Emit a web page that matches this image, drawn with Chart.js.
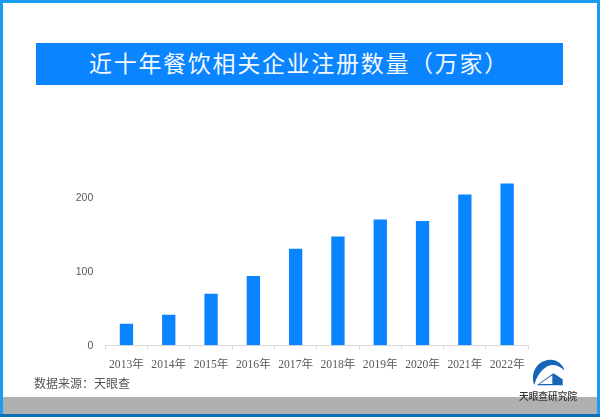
<!DOCTYPE html>
<html>
<head>
<meta charset="utf-8">
<script src="https://cdn.jsdelivr.net/npm/chart.js@4"></script>
<style>
  html, body { margin: 0; padding: 0; background: #fff; }
  #page { position: relative; width: 600px; height: 417px; overflow: hidden; background: #fff;
    font-family: "Noto Sans CJK SC", sans-serif; }
  #page div, #page svg, #page canvas { position: absolute; }
  #left { left: 0; top: 0; width: 3px; height: 417px; background: #1a9cf0; }
  #right { left: 597px; top: 0; width: 3px; height: 417px; background: #1a9cf0; }
  #top { left: 0; top: 0; width: 600px; height: 3px; background: #1a9cf0; }
  #band { left: 3px; top: 397px; width: 594px; height: 17px; background: #b0b0b0; }
  #bottom { left: 0; top: 414px; width: 600px; height: 3px; background: #0b70b8; }
  #banner { left: 36px; top: 43px; width: 527px; height: 42px; background: #0a84ff; }
  #title { left: 89px; top: 43px; height: 42px; line-height: 39px; font-size: 23px; font-weight: 400;
    letter-spacing: 1.7px; color: #f4f9ff; white-space: nowrap; }
  #source { left: 34px; top: 374px; line-height: 18px; font-size: 12px; color: #555; white-space: nowrap; }
  #brand { left: 519px; top: 389px; line-height: 14px; font-size: 9.7px; font-weight: 500; color: #333; white-space: nowrap; }
  #logo { left: 500px; top: 350px; width: 100px; height: 67px; }
</style>
</head>
<body>
<div id="page">
  <div id="band"></div>
  <div id="left"></div>
  <div id="right"></div>
  <div id="top"></div>
  <div id="bottom"></div>
  <div id="banner"></div>
  <div id="title">近十年餐饮相关企业注册数量（万家）</div>
  <canvas id="myChart" width="600" height="417" style="left:0;top:0;width:600px;height:417px"></canvas>
  <div id="source">数据来源：天眼查</div>
  <svg id="logo" viewBox="0 0 300 201">
    <path d="M103 105 C90 72 108 32 150 29 C170 28 188 42 194 62 C176 44 156 40 140 50 C122 60 108 84 103 105Z" fill="#1566b8"/>
    <path d="M110 106 L160 70 L188 88 L188 106Z" fill="#1566b8"/>
    <path d="M119 102 L157 76 L157 102Z" fill="#fff"/>
  </svg>
  <div id="brand">天眼查研究院</div>
</div>
<script>
const years = ['2013年', '2014年', '2015年', '2016年', '2017年', '2018年', '2019年', '2020年', '2021年', '2022年'];
const registrations = [29, 41, 69.5, 93.5, 130, 146.5, 169.5, 167.5, 203, 218];
const yTicks = [0, 100, 200];

const ctx = document.getElementById('myChart');

new Chart(ctx, {
  type: 'bar',
  data: {
    labels: years,
    datasets: [{
      label: '注册数量',
      data: registrations,
      backgroundColor: '#0a84ff',
      categoryPercentage: 1,
      barPercentage: 0.315,
    }],
  },
  options: {
    responsive: false,
    animation: false,
    layout: { padding: { top: 182, right: 71.7, left: 0, bottom: 0 } },
    plugins: { legend: { display: false }, tooltip: { enabled: false } },
    scales: {
      x: {
        afterFit: (scale) => { scale.height = 71.7; },
        grid: { drawOnChartArea: false, color: '#d9d9d9', tickLength: 4, offset: true },
        border: { color: '#d9d9d9' },
        ticks: {
          maxRotation: 0,
          autoSkip: false,
          padding: 9,
          color: '#595959',
          font: { family: '"Liberation Serif", "Noto Sans CJK SC"', size: 11.6 },
        },
      },
      y: {
        min: 0,
        max: 220,
        afterFit: (scale) => { scale.width = 105.3; },
        afterBuildTicks: (scale) => { scale.ticks = yTicks.map((value) => ({ value })); },
        grid: { display: false },
        border: { display: false },
        ticks: {
          padding: 4,
          labelOffset: 1,
          color: '#595959',
          font: { family: '"Liberation Sans"', size: 10.5 },
        },
      },
    },
  },
});
</script>
</body>
</html>
